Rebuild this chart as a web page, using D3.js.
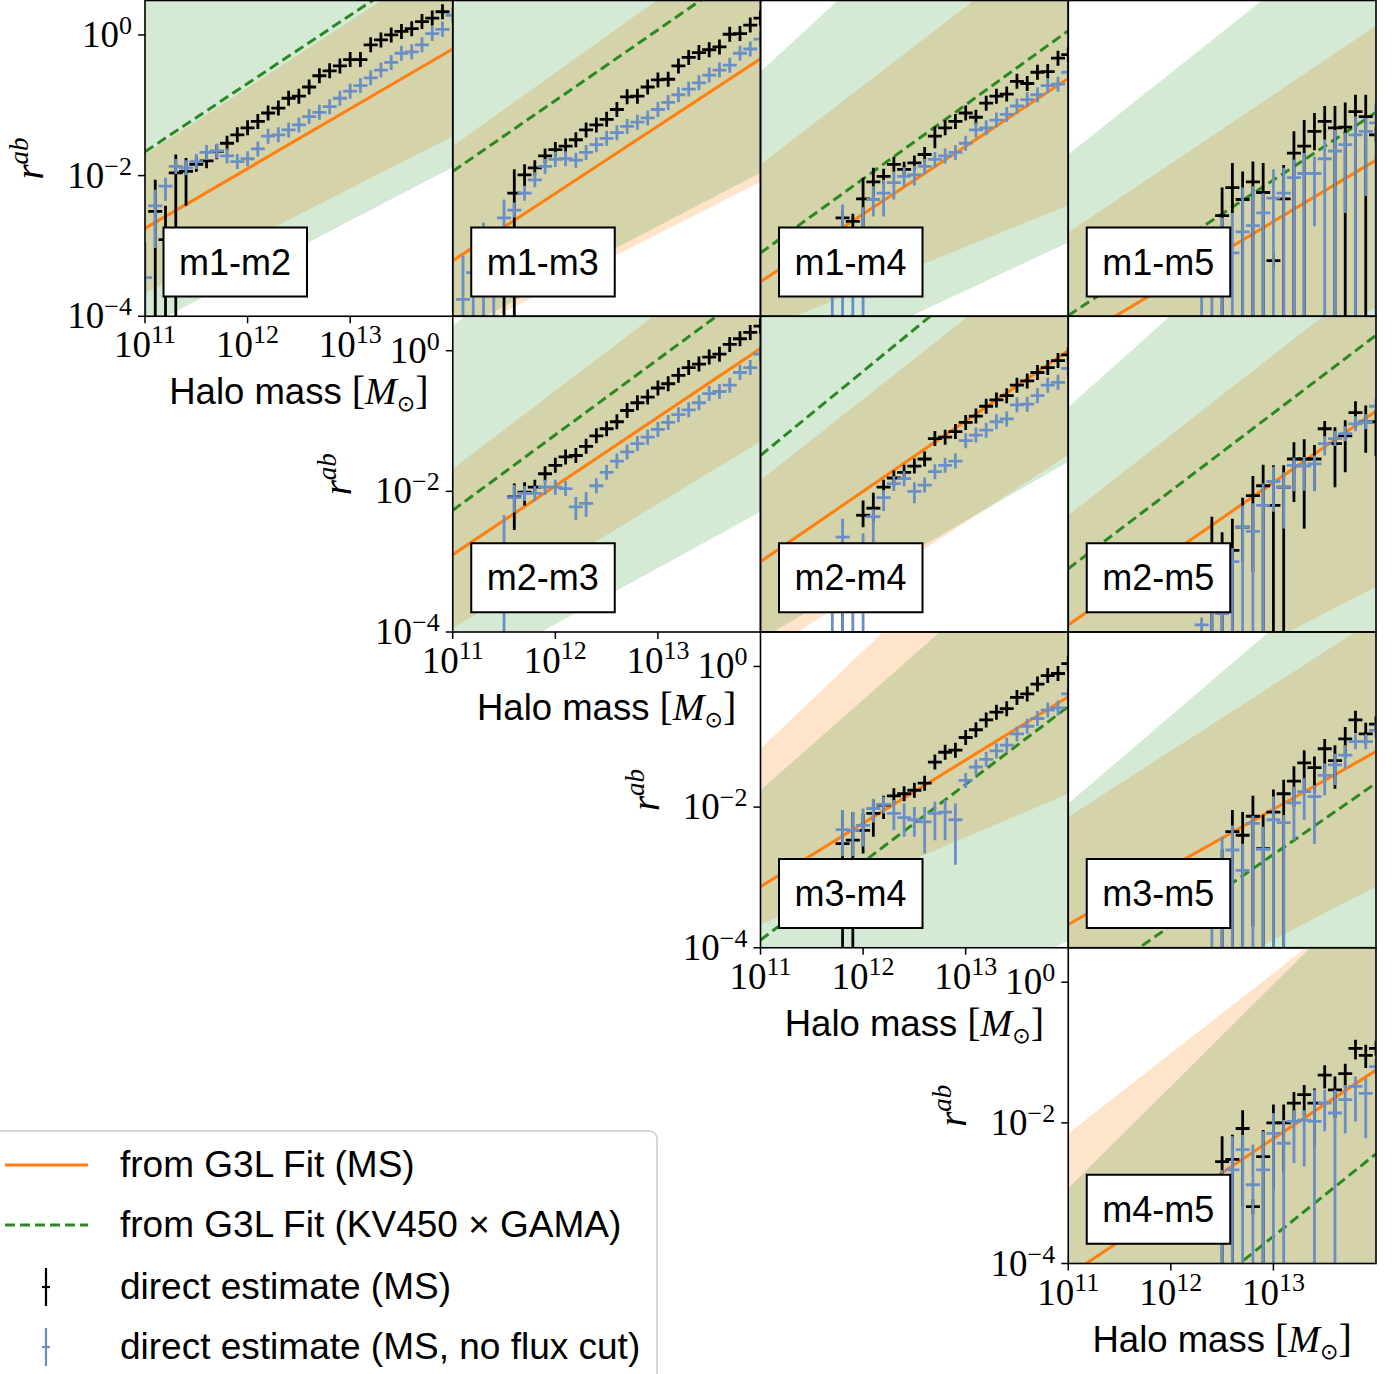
<!DOCTYPE html>
<html lang="en">
<head>
<meta charset="utf-8">
<title>r_ab vs halo mass</title>
<script src="https://cdn.jsdelivr.net/npm/d3@7"></script>
<style>
body { margin: 0; background: #fff; }
</style>
</head>
<body>
<script>

// figure size and panel grid
var w = 1397, h = 1374;
var left0 = 145, top0 = 0.5;
var panelW = 307.75, panelH = 315.75;

var sans = "'Liberation Sans', Arial, sans-serif";
var serif = "'Liberation Serif', 'Times New Roman', serif";

// axes
var massTicks = [1e11, 1e12, 1e13];
var massTickExp = ["11", "12", "13"];
var rTicks = [1e-4, 1e-2, 1];
var rTickExp = ["\u22124", "\u22122", "0"];
var fitMass = [11, 14];   // log10 M at both ends of the fits

// panels
var pairs = ["m1-m2", "m1-m3", "m1-m4", "m1-m5", "m2-m3", "m2-m4", "m2-m5", "m3-m4", "m3-m5", "m4-m5"];
var pairRow = [0, 0, 0, 0, 1, 1, 1, 2, 2, 3];
var pairCol = [0, 1, 2, 3, 1, 2, 3, 2, 3, 3];

// log10 r_ab of the fits at M = 1e11 and 1e14
var fitMS = [[-2.75, -0.20], [-3.21, -0.34], [-3.51, -0.62], [-4.40, -1.78], [-2.90, 0.03],
             [-3.00, 0.00], [-3.90, -0.86], [-3.13, -0.43], [-3.67, -1.21], [-4.17, -1.25]];
var fitKV = [[-1.66, 1.25], [-1.94, 1.08], [-3.10, 0.06], [-3.99, -1.10], [-2.27, 0.95],
             [-1.49, 2.10], [-3.10, 0.22], [-3.89, -0.57], [-4.70, -1.66], [-5.96, -2.44]];

// uncertainty bands: [low@1e11, low@1e14, high@1e11, high@1e14]
var bandMS = [[-3.67, -1.44, -1.70, 1.15], [-4.31, -2.09, -1.58, 1.55], [-4.20, -2.42, -1.84, 1.52],
              [-6.00, -3.88, -2.81, 0.13], [-3.95, -1.29, -1.68, 1.65], [-4.35, -1.48, -1.84, 1.61],
              [-5.60, -3.36, -2.34, 1.08], [-3.67, -1.81, -1.17, 3.00], [-5.40, -3.13, -2.14, 0.68],
              [-6.50, -4.30, -2.15, 1.27]];
var bandKV = [[-4.16, -1.88, 0.90, 3.90], [-4.24, -1.96, 0.43, 3.70], [-5.00, -2.95, -0.52, 3.50],
              [-6.50, -4.20, -1.70, 1.78], [-4.69, -2.29, 0.35, 4.00], [-4.10, -1.58, 0.80, 4.00],
              [-6.50, -4.30, -0.80, 3.10], [-6.00, -3.90, -1.76, 2.10], [-6.80, -4.30, -1.95, 1.80],
              [-7.00, -4.60, -2.93, 1.42]];

// direct estimates: [log10 M, log10 r, log10 top, log10 bottom]  (-9 = below the axis)
var m1m2_ms = [[11.1,-2.51,-2.06,-9],[11.2,-2.91,-2.43,-9],[11.3,-1.96,-1.70,-9],[11.4,-1.94,-1.75,-2.43],
  [11.5,-1.84],[11.6,-1.79],[11.7,-1.66],[11.8,-1.54],[11.9,-1.42],[12.0,-1.32],[12.1,-1.23],[12.2,-1.11],
  [12.3,-1.04],[12.4,-0.90],[12.5,-0.87],[12.6,-0.74],[12.7,-0.58],[12.8,-0.51],[12.9,-0.44],[13.0,-0.35],
  [13.1,-0.35],[13.2,-0.14],[13.3,-0.07],[13.4,0.00],[13.5,0.05],[13.6,0.09],[13.7,0.19],[13.8,0.24],[13.9,0.33]];
var m1m2_nf = [[11.0,-3.45,-2.95,-9],[11.1,-2.43,-2.20,-3.03],[11.2,-2.15,-2.03,-2.36],[11.3,-1.87],[11.4,-1.89],
  [11.5,-1.80],[11.6,-1.67],[11.7,-1.65],[11.8,-1.72],[11.9,-1.80],[12.0,-1.76],[12.1,-1.62],[12.2,-1.44],
  [12.3,-1.42],[12.4,-1.35],[12.5,-1.28],[12.6,-1.16],[12.7,-1.10],[12.8,-1.02],[12.9,-0.90],[13.0,-0.80],
  [13.1,-0.72],[13.2,-0.61],[13.3,-0.50],[13.4,-0.39],[13.5,-0.26],[13.6,-0.24],[13.7,-0.14],[13.8,0.02],
  [13.9,0.08],[14.0,0.28]];

var m1m3_ms = [[11.5,-3.60,-3.30,-9],[11.6,-2.25,-1.91,-9],[11.7,-1.99,-1.84,-2.15],[11.8,-1.89],[11.9,-1.72],
  [12.0,-1.63],[12.1,-1.58],[12.2,-1.49],[12.3,-1.35],[12.4,-1.28],[12.5,-1.20],[12.6,-1.06],[12.7,-0.88],
  [12.8,-0.87],[12.9,-0.74],[13.0,-0.64],[13.1,-0.63],[13.2,-0.44],[13.3,-0.32],[13.4,-0.25],[13.5,-0.21],
  [13.6,-0.17],[13.7,0.01],[13.8,0.02],[13.9,0.14],[14.0,0.24]];
var m1m3_nf = [[11.1,-3.76,-3.14,-9],[11.2,-3.38,-3.14,-9],[11.3,-3.00,-2.67,-9],[11.4,-3.30,-3.14,-9],
  [11.5,-2.60,-2.34,-2.81],[11.6,-2.49],[11.7,-2.25],[11.8,-2.06],[11.9,-1.87],[12.0,-1.77],[12.1,-1.76],
  [12.2,-1.78],[12.3,-1.67],[12.4,-1.56],[12.5,-1.47],[12.6,-1.39],[12.7,-1.30],[12.8,-1.24],[12.9,-1.18],
  [13.0,-1.06],[13.1,-0.96],[13.2,-0.85],[13.3,-0.77],[13.4,-0.68],[13.5,-0.57],[13.6,-0.50],[13.7,-0.43],
  [13.8,-0.26],[13.9,-0.20],[14.0,-0.06]];

var m1m4_ms = [[11.8,-2.60,-2.50,-2.75],[11.9,-2.65],[12.0,-2.33,-2.03,-2.75],[12.1,-2.09,-1.89,-2.30],
  [12.2,-2.01],[12.3,-1.84],[12.4,-1.91],[12.5,-1.82],[12.6,-1.70],[12.7,-1.44,-1.30,-1.61],[12.8,-1.32],
  [12.9,-1.23],[13.0,-1.11],[13.1,-1.17],[13.2,-0.97],[13.3,-0.87],[13.4,-0.84],[13.5,-0.66],[13.6,-0.69],
  [13.7,-0.53],[13.8,-0.52],[13.9,-0.33],[14.0,-0.28]];
var m1m4_nf = [[11.7,-3.30,-3.00,-9],[11.8,-3.00,-2.41,-9],[11.9,-3.30,-3.00,-9],[12.0,-2.90,-2.45,-9],
  [12.1,-2.34,-2.15,-2.58],[12.2,-2.25,-2.06,-2.58],[12.3,-2.10,-1.95,-2.34],[12.4,-2.01,-1.88,-2.16],
  [12.5,-1.99,-1.86,-2.14],[12.6,-1.87],[12.7,-1.77],[12.8,-1.72],[12.9,-1.67],[13.0,-1.54],[13.1,-1.35],
  [13.2,-1.32],[13.3,-1.21],[13.4,-1.13],[13.5,-1.01],[13.6,-0.92],[13.7,-0.85],[13.8,-0.72],[13.9,-0.70],
  [14.0,-0.53]];

var m1m5_ms = [[12.5,-2.57,-2.17,-9],[12.6,-2.17,-1.82,-2.53],[12.7,-2.34,-1.94,-9],[12.8,-2.09,-1.80,-9],
  [12.9,-2.24,-1.82,-9],[13.0,-3.21],[13.1,-2.33,-1.85,-9],[13.2,-1.68,-1.37,-9],[13.3,-1.58,-1.21,-9],
  [13.4,-1.37,-1.11,-1.64],[13.5,-1.23,-1.01,-1.49],[13.6,-1.32,-1.01,-9],[13.7,-1.31,-0.96,-9],
  [13.8,-1.09,-0.85,-9],[13.9,-1.16,-0.85,-9],[14.0,-1.42]];
var m1m5_nf = [[12.3,-3.60,-3.00,-9],[12.4,-3.60,-3.00,-9],[12.5,-3.50,-2.60,-9],[12.6,-3.10,-2.53,-9],
  [12.7,-2.80,-2.17,-9],[12.8,-2.71,-2.15,-9],[12.9,-2.53,-2.25,-9],[13.0,-2.32,-1.91,-9],[13.1,-2.25,-1.89,-9],
  [13.2,-2.03,-1.77,-9],[13.3,-1.97,-1.68,-9],[13.4,-1.97,-1.73,-2.72],[13.5,-1.76,-1.49,-9],[13.6,-1.65,-1.35,-9],
  [13.7,-1.56,-1.39,-2.53],[13.8,-1.42,-1.16,-9],[13.9,-1.37,-1.18,-2.29],[14.0,-1.25,-0.97,-9]];

var m2m3_ms = [[11.6,-2.08,-1.89,-2.55],[11.7,-2.01,-1.87,-2.20],[11.8,-1.94],[11.9,-1.75],[12.0,-1.63],
  [12.1,-1.51],[12.2,-1.49],[12.3,-1.36],[12.4,-1.21],[12.5,-1.11],[12.6,-1.01],[12.7,-0.85],[12.8,-0.74],
  [12.9,-0.66],[13.0,-0.53],[13.1,-0.47],[13.2,-0.35],[13.3,-0.24],[13.4,-0.19],[13.5,-0.09],[13.6,-0.05],
  [13.7,0.09],[13.8,0.17],[13.9,0.26],[14.0,0.35]];
var m2m3_nf = [[11.5,-3.00,-2.34,-9],[11.6,-2.09,-1.91,-2.30],[11.7,-2.03],[11.8,-2.03],[11.9,-1.94],
  [12.0,-1.94],[12.1,-1.96],[12.2,-2.22,-2.08,-2.41],[12.3,-2.17,-2.01,-2.36],[12.4,-1.92],[12.5,-1.73],
  [12.6,-1.57],[12.7,-1.44],[12.8,-1.32],[12.9,-1.23],[13.0,-1.12],[13.1,-1.02],[13.2,-0.91],[13.3,-0.84],
  [13.4,-0.74],[13.5,-0.61],[13.6,-0.58],[13.7,-0.49],[13.8,-0.31],[13.9,-0.24],[14.0,-0.05]];

var m2m4_ms = [[11.8,-3.50,-3.20,-9],[12.0,-2.34,-2.13,-2.51],[12.1,-2.24,-2.02,-2.44],[12.2,-1.94],
  [12.3,-1.81],[12.4,-1.73],[12.5,-1.64],[12.6,-1.54],[12.7,-1.25],[12.8,-1.23],[12.9,-1.15],[13.0,-1.02],
  [13.1,-0.93],[13.2,-0.79],[13.3,-0.70],[13.4,-0.64],[13.5,-0.49],[13.6,-0.43],[13.7,-0.31],[13.8,-0.24],
  [13.9,-0.14],[14.0,-0.06]];
var m2m4_nf = [[11.7,-3.50,-3.20,-9],[11.8,-2.65,-2.39,-9],[11.9,-3.50,-3.20,-9],[12.0,-3.00,-2.60,-9],
  [12.1,-2.36,-2.29,-2.72],[12.2,-2.09,-2.00,-2.28],[12.3,-1.89],[12.4,-1.82],[12.5,-2.00,-1.87,-2.17],
  [12.6,-1.91],[12.7,-1.72],[12.8,-1.63],[12.9,-1.57],[13.0,-1.28],[13.1,-1.20],[13.2,-1.13],[13.3,-1.01],
  [13.4,-0.97],[13.5,-0.77],[13.6,-0.76],[13.7,-0.64],[13.8,-0.49],[13.9,-0.45],[14.0,-0.25]];

var m2m5_ms = [[12.4,-2.78,-2.36,-9],[12.5,-2.80,-2.58,-9],[12.6,-2.84,-2.39,-9],[12.7,-2.51,-2.09,-3.00],
  [12.8,-2.06,-1.78,-3.14],[12.9,-1.92,-1.62,-9],[13.0,-2.20,-1.63,-9],[13.1,-1.94,-1.63,-9],
  [13.2,-1.54,-1.30,-2.15],[13.3,-1.54,-1.26,-2.53],[13.4,-1.54,-1.34,-1.99],[13.5,-1.11,-1.00,-1.24],
  [13.6,-1.32,-1.09,-1.94],[13.7,-1.21,-0.99,-1.73],[13.8,-0.88,-0.72,-1.10],[13.9,-1.01,-0.78,-1.45],
  [14.0,-1.01,-0.85,-1.50]];
var m2m5_nf = [[12.3,-3.90,-3.80,-9],[12.4,-3.50,-3.00,-9],[12.5,-3.74,-3.50,-9],[12.6,-3.00,-2.81,-9],
  [12.7,-2.51,-2.20,-9],[12.8,-2.57,-2.17,-9],[12.9,-2.20,-1.89,-9],[13.0,-1.86,-1.65,-2.29],
  [13.1,-1.94,-1.73,-2.53],[13.2,-1.63,-1.58,-2.00],[13.3,-1.64,-1.51,-1.99],[13.4,-1.61,-1.49,-2.00],
  [13.5,-1.32,-1.23,-1.49],[13.6,-1.25],[13.7,-1.18],[13.8,-1.04],[13.9,-1.01],[14.0,-0.79]];

var m3m4_ms = [[11.8,-2.52,-2.04,-9],[11.9,-2.47,-2.07,-9],[12.0,-2.33,-2.09,-2.66],[12.1,-2.09,-1.90,-2.42],
  [12.2,-1.97,-1.84,-2.17],[12.3,-1.84],[12.4,-1.81],[12.5,-1.76],[12.6,-1.66],[12.7,-1.36],[12.8,-1.22],
  [12.9,-1.19],[13.0,-1.01],[13.1,-0.90],[13.2,-0.76],[13.3,-0.65],[13.4,-0.60],[13.5,-0.44],[13.6,-0.39],
  [13.7,-0.25],[13.8,-0.13],[13.9,-0.10],[14.0,0.04]];
var m3m4_nf = [[11.8,-2.32,-2.04,-2.70],[11.9,-2.33,-2.07,-2.70],[12.0,-2.26,-2.02,-2.56],[12.1,-2.02,-1.88,-2.22],
  [12.2,-1.96,-1.86,-2.09],[12.3,-2.09,-1.90,-2.33],[12.4,-2.15,-1.95,-2.42],[12.5,-2.18,-2.00,-2.42],
  [12.6,-2.21,-2.00,-2.66],[12.7,-2.09,-1.92,-2.47],[12.8,-2.07,-1.90,-2.47],[12.9,-2.18,-1.95,-2.82],
  [13.0,-1.62],[13.1,-1.43],[13.2,-1.32],[13.3,-1.20],[13.4,-1.12],[13.5,-0.96],[13.6,-0.85],[13.7,-0.74],
  [13.8,-0.62],[13.9,-0.59],[14.0,-0.39]];

var m3m5_ms = [[12.5,-2.90,-2.60,-9],[12.6,-2.35,-2.04,-9],[12.7,-2.40,-2.07,-9],[12.8,-2.13,-1.84,-3.70],
  [12.9,-2.59,-2.11,-9],[13.0,-2.07,-1.75,-9],[13.1,-1.81,-1.61,-9],[13.2,-1.63,-1.42,-2.00],
  [13.3,-1.37,-1.19,-1.80],[13.4,-1.44,-1.28,-1.80],[13.5,-1.17,-1.03,-1.60],[13.6,-1.34,-1.12,-1.74],
  [13.7,-1.03,-0.86,-1.30],[13.8,-0.76,-0.63,-0.95],[13.9,-0.96,-0.80,-1.10],[14.0,-0.82]];
var m3m5_nf = [[12.4,-3.70,-3.50,-9],[12.5,-3.30,-2.42,-9],[12.6,-2.61,-2.26,-9],[12.7,-2.90,-2.52,-9],
  [12.8,-2.23,-2.16,-9],[12.9,-2.60,-2.28,-9],[13.0,-2.18,-1.85,-9],[13.1,-2.22,-2.19,-9],
  [13.2,-1.94,-1.71,-2.47],[13.3,-1.78,-1.59,-2.18],[13.4,-1.85,-1.69,-2.52],[13.5,-1.55,-1.38,-1.83],
  [13.6,-1.40,-1.24,-1.69],[13.7,-1.26,-1.12,-1.45],[13.8,-1.07],[13.9,-1.07],[14.0,-0.91]];

var m4m5_ms = [[12.5,-2.55,-2.19,-9],[12.6,-2.52,-2.17,-9],[12.7,-2.08,-1.82,-3.19],[12.8,-3.19],
  [12.9,-2.48,-2.10,-9],[13.0,-2.00,-1.74,-2.95],[13.1,-2.00,-1.74,-2.71],[13.2,-1.72,-1.56,-2.00],
  [13.3,-1.60,-1.46,-1.90],[13.4,-1.72,-1.51,-2.34],[13.5,-1.32,-1.18,-1.51],[13.6,-1.53,-1.34,-1.93],
  [13.7,-1.30,-1.16,-1.50],[13.8,-0.94,-0.82,-1.10],[13.9,-1.04,-0.89,-1.22],[14.0,-0.94]];
var m4m5_nf = [[12.5,-2.90,-2.67,-9],[12.6,-2.67,-2.19,-9],[12.7,-2.38,-2.17,-9],[12.8,-2.88,-2.31,-9],
  [12.9,-2.67,-2.12,-9],[13.0,-2.15,-1.86,-9],[13.1,-2.29,-1.96,-9],[13.2,-1.98,-1.82,-2.57],
  [13.3,-1.96,-1.82,-2.62],[13.4,-1.98,-1.53,-9],[13.5,-1.72,-1.53,-2.12],[13.6,-1.86,-1.53,-9],
  [13.7,-1.67,-1.46,-2.15],[13.8,-1.48,-1.34,-1.98],[13.9,-1.58,-1.37,-2.22],[14.0,-1.20]];

var directMS = [m1m2_ms, m1m3_ms, m1m4_ms, m1m5_ms, m2m3_ms, m2m4_ms, m2m5_ms, m3m4_ms, m3m5_ms, m4m5_ms];
var directNF = [m1m2_nf, m1m3_nf, m1m4_nf, m1m5_nf, m2m3_nf, m2m4_nf, m2m5_nf, m3m4_nf, m3m5_nf, m4m5_nf];

var legendLabels = ["from G3L Fit (MS)", "from G3L Fit (KV450 \u00d7 GAMA)",
                    "direct estimate (MS)", "direct estimate (MS, no flux cut)"];

var orange = "#ff7f0e", green = "#2a8a22", blue = "#6a8fc6";

function p10(v) { return Math.pow(10, v); }

var svg = d3.select("body")
            .append("svg")
            .attr("width", w)
            .attr("height", h);

var x = d3.scaleLog().domain([1e11, 1e14]).range([0, panelW]);
var y = d3.scaleLog().domain([1e-4, p10(0.49)]).range([panelH, 0]);

var band = d3.area()
  .x(function(d) { return x(p10(d[0])); })
  .y0(function(d) { return y(p10(d[1])); })
  .y1(function(d) { return y(p10(d[2])); });

var fitLine = d3.line()
  .x(function(d) { return x(p10(d[0])); })
  .y(function(d) { return y(p10(d[1])); });

function drawPoints(sel, pts, color) {
  var gp = sel.append("g").style("stroke", color).style("stroke-width", 2.8);
  //error bars
  gp.selectAll("line.bar")
    .data(pts)
    .enter()
    .append("line")
    .attr("class", "bar")
    .attr("x1", function(d) { return x(p10(d[0])); })
    .attr("x2", function(d) { return x(p10(d[0])); })
    .attr("y1", function(d) {
      var cy = y(p10(d[1]));
      return d.length > 2 ? Math.min(y(p10(d[2])), cy - 7.5) : cy - 7.5;
    })
    .attr("y2", function(d) {
      var cy = y(p10(d[1]));
      return d.length > 3 ? Math.max(y(p10(d[3])), cy + 7.5) : cy + 7.5;
    });
  //marker
  gp.selectAll("line.mark")
    .data(pts)
    .enter()
    .append("line")
    .attr("class", "mark")
    .attr("x1", function(d) { return x(p10(d[0])) - 7; })
    .attr("x2", function(d) { return x(p10(d[0])) + 7; })
    .attr("y1", function(d) { return y(p10(d[1])); })
    .attr("y2", function(d) { return y(p10(d[1])); });
}

function powerLabel(sel, exp, mainSize, supSize, supDy) {
  sel.append("tspan").text("10").style("font-size", mainSize + "px");
  sel.append("tspan").text(exp).style("font-size", supSize + "px").attr("dy", supDy);
}

pairs.forEach(function(name, i) {
  var row = pairRow[i], col = pairCol[i];
  var ox = left0 + col * panelW, oy = top0 + row * panelH;
  var g = svg.append("g").attr("transform", "translate(" + ox + "," + oy + ")");

  g.append("clipPath").attr("id", "clip" + i)
    .append("rect").attr("width", panelW).attr("height", panelH);
  var plot = g.append("g").attr("clip-path", "url(#clip" + i + ")");

  var bm = bandMS[i], bk = bandKV[i];
  plot.append("path")
    .datum([[fitMass[0], bm[0], bm[2]], [fitMass[1], bm[1], bm[3]]])
    .attr("d", band)
    .style("fill", orange).style("fill-opacity", 0.21);
  plot.append("path")
    .datum([[fitMass[0], bk[0], bk[2]], [fitMass[1], bk[1], bk[3]]])
    .attr("d", band)
    .style("fill", "#008000").style("fill-opacity", 0.17);

  plot.append("path")
    .datum([[fitMass[0], fitMS[i][0]], [fitMass[1], fitMS[i][1]]])
    .attr("d", fitLine)
    .style("fill", "none").style("stroke", orange).style("stroke-width", 3);
  plot.append("path")
    .datum([[fitMass[0], fitKV[i][0]], [fitMass[1], fitKV[i][1]]])
    .attr("d", fitLine)
    .style("fill", "none").style("stroke", green).style("stroke-width", 3)
    .style("stroke-dasharray", "10,5");

  drawPoints(plot, directMS[i], "#000");
  drawPoints(plot, directNF[i], blue);

  //pair label box
  g.append("rect")
    .attr("x", 18.5).attr("y", 227).attr("width", 143.5).attr("height", 69)
    .style("fill", "#fff").style("stroke", "#000").style("stroke-width", 2);
  g.append("text")
    .attr("x", 90).attr("y", 274)
    .attr("text-anchor", "middle")
    .style("font-family", sans).style("font-size", "36px")
    .text(name);

  g.append("rect")
    .attr("width", panelW).attr("height", panelH)
    .style("fill", "none").style("stroke", "#000").style("stroke-width", 1.6);

  if (row === col) {
    //bottom axis
    massTicks.forEach(function(t, j) {
      var tx = x(t);
      g.append("line").attr("x1", tx).attr("x2", tx).attr("y1", panelH).attr("y2", panelH + 7)
        .style("stroke", "#000").style("stroke-width", 1.5);
      var lab = g.append("text")
        .attr("x", tx).attr("y", panelH + 41)
        .attr("text-anchor", "middle")
        .style("font-family", serif);
      powerLabel(lab, massTickExp[j], 37, 26, -14);
    });
    //left axis
    rTicks.forEach(function(t, j) {
      var ty = y(t);
      g.append("line").attr("x1", -7).attr("x2", 0).attr("y1", ty).attr("y2", ty)
        .style("stroke", "#000").style("stroke-width", 1.5);
      var lab = g.append("text")
        .attr("x", -13).attr("y", ty + 12)
        .attr("text-anchor", "end")
        .style("font-family", serif);
      powerLabel(lab, rTickExp[j], 37, 26, -13);
    });

    var xl = g.append("text")
      .attr("x", panelW / 2).attr("y", panelH + 88)
      .attr("text-anchor", "middle")
      .style("font-size", "36.5px");
    xl.append("tspan").style("font-family", sans).text("Halo mass ");
    xl.append("tspan").style("font-family", serif).style("font-size", "40px").text("[");
    xl.append("tspan").style("font-family", serif).style("font-style", "italic").style("font-size", "38px").text("M");
    xl.append("tspan").style("font-family", "'DejaVu Sans', sans-serif").style("font-size", "22px")
      .attr("dy", 7).text("\u2299");
    xl.append("tspan").style("font-family", serif).style("font-size", "40px").attr("dy", -7).text("]");

    var yl = g.append("text")
      .attr("transform", "translate(-102," + 158 + ") rotate(-90)")
      .attr("text-anchor", "middle")
      .style("font-family", serif).style("font-style", "italic");
    yl.append("tspan").style("font-size", "39px").text("r");
    yl.append("tspan").style("font-size", "27px").attr("dy", -15).text("ab");
  }
});

//legend
var lg = svg.append("g").attr("transform", "translate(0,1131)");
lg.append("rect")
  .attr("x", -10).attr("y", 0).attr("width", 667).attr("height", 270).attr("rx", 8)
  .style("fill", "#fff").style("fill-opacity", 0.8)
  .style("stroke", "#ccc").style("stroke-width", 1.5);

var rowY = [34, 94, 156, 216];
lg.append("line").attr("x1", 5).attr("x2", 88).attr("y1", rowY[0]).attr("y2", rowY[0])
  .style("stroke", orange).style("stroke-width", 3);
lg.append("line").attr("x1", 5).attr("x2", 88).attr("y1", rowY[1]).attr("y2", rowY[1])
  .style("stroke", green).style("stroke-width", 3).style("stroke-dasharray", "10,5");
[["#000", rowY[2]], [blue, rowY[3]]].forEach(function(m) {
  lg.append("line").attr("x1", 46).attr("x2", 46).attr("y1", m[1] - 19).attr("y2", m[1] + 19)
    .style("stroke", m[0]).style("stroke-width", 2.2);
  lg.append("line").attr("x1", 42).attr("x2", 50).attr("y1", m[1]).attr("y2", m[1])
    .style("stroke", m[0]).style("stroke-width", 2.2);
});
lg.selectAll("text")
  .data(legendLabels)
  .enter()
  .append("text")
  .attr("x", 120)
  .attr("y", function(d, i) { return rowY[i] + 12; })
  .style("font-family", sans).style("font-size", "37px")
  .text(function(d) { return d; });

</script>
</body>
</html>
